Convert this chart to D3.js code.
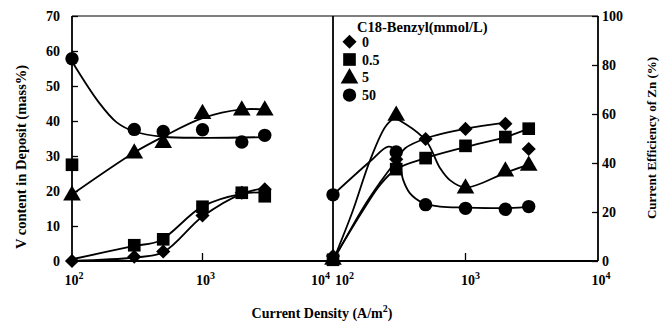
<!DOCTYPE html>
<html><head><meta charset="utf-8">
<script src="https://cdn.jsdelivr.net/npm/d3@7/dist/d3.min.js"></script>
<style>
body{margin:0;background:#fff;}
svg{display:block;}
text{font-family:"Liberation Serif","Times New Roman",serif;font-weight:bold;fill:#000;}
</style></head>
<body><svg id="chart" width="669" height="324"></svg>
<script>
// ---------- data ----------
const currentDensity = [100, 300, 500, 1000, 2000, 3000];
const legendTitle = "C18-Benzyl(mmol/L)";
const concLabels = ["0", "0.5", "5", "50"];
const xTickLabels = [{b:"10", e:"2"}, {b:"10", e:"3"}, {b:"10", e:"4"}];
const xTickValues = [100, 1000, 10000];
const vTicks = [0, 10, 20, 30, 40, 50, 60, 70];
const ceTicks = [0, 20, 40, 60, 80, 100];

// V content in deposit (mass%)
const vDiamond  = [0, 1.2, 2.7, 13, 19.5, 20.5];
const vSquare   = [27.5, 4.5, 6.2, 15.5, 19.5, 18.5];
const vTriangle = [19, 31, 34, 42.3, 43.3, 43.3];
const vCircle   = [57.8, 37.6, 37, 37.5, 34, 35.9];

// Current efficiency of Zn (%)
const ceDiamond  = [2, 41.5, 49.8, 53.9, 56, 45.7];
const ceSquare   = [0.5, 37.5, 42, 47, 50.6, 54];
const ceTriangle = [1, 59.7, null, 30, 37, 39.3];
const ceCircle   = [27, 44.5, 23, 21.5, 21.1, 22.2];

// fitted curves
const fitVDiamondX  = [100, 300, 500, 1000, 2000, 3000];
const fitVDiamondY  = [0, 1, 2.5, 12.7, 19.2, 20.8];
const fitVSquareX   = [100, 300, 470, 1000, 2000, 3000];
const fitVSquareY   = [0.5, 4.3, 5.8, 15.6, 19.2, 19.6];
const fitVTriangleX = [100, 300, 500, 1000, 2000, 3000];
const fitVTriangleY = [19, 31, 35.5, 40.8, 43.3, 43.3];
const fitVCircleX   = [100, 160, 220, 300, 500, 1000, 3000];
const fitVCircleY   = [57, 45.4, 39.6, 37, 35.5, 35.2, 35.4];

const fitCEDiamondX  = [100, 170, 226, 300, 350, 500, 1000, 2000];
const fitCEDiamondY  = [0, 22, 32, 41, 46, 50, 54, 56.5];
const fitCESquareX   = [100, 170, 226, 300, 500, 1000, 2000, 3000];
const fitCESquareY   = [0.5, 21, 31, 37.5, 42, 46.5, 50.6, 54];
const fitCETriangleX = [100, 140, 190, 250, 290, 350, 508, 641, 762, 1000, 2000, 3000];
const fitCETriangleY = [0, 20, 41, 55, 58, 56, 48.8, 38, 33, 30, 36, 39.3];
const fitCECircleX   = [100, 190, 261, 300, 339, 380, 477, 641, 1000, 2000, 3200];
const fitCECircleY   = [27, 40.6, 46.7, 45, 33, 27.7, 23.7, 22.2, 21.8, 21.6, 22.2];

// ---------- layout ----------
const svg = d3.select("#chart");
const pTop = 16, pBottom = 261, pLeft = 72, pMid = 333, pRight = 598;
const xL = d3.scaleLog().domain([100, 10000]).range([pLeft, pMid]);
const xR = d3.scaleLog().domain([100, 10000]).range([pMid, pRight]);
const yV = d3.scaleLinear().domain([0, 70]).range([pBottom, pTop]);
const yC = d3.scaleLinear().domain([0, 100]).range([pBottom, pTop]);

const shapes = ["diamond", "square", "triangle", "circle"];
function marker(g, shape, x, y){
  if (shape === "circle") {
    g.append("circle").attr("cx", x).attr("cy", y).attr("r", 6.7).attr("fill", "#000");
  } else if (shape === "square") {
    g.append("path").attr("d", d3.symbol(d3.symbolSquare, 160)()).attr("transform", `translate(${x},${y})`).attr("fill", "#000");
  } else if (shape === "diamond") {
    g.append("path").attr("d", d3.symbol(d3.symbolSquare, 100)()).attr("transform", `translate(${x},${y}) rotate(45)`).attr("fill", "#000");
  } else {
    g.append("path").attr("d", d3.symbol(d3.symbolTriangle, 135)()).attr("transform", `translate(${x},${y+1})`).attr("fill", "#000");
  }
}

// frame
const frame = svg.append("g").attr("stroke", "#000").attr("fill", "none");
frame.append("line").attr("x1", pLeft).attr("x2", pRight).attr("y1", pTop).attr("y2", pTop).attr("stroke-width", 1.1);
frame.append("line").attr("x1", pLeft).attr("x2", pRight).attr("y1", pBottom).attr("y2", pBottom).attr("stroke-width", 1.8);
frame.append("line").attr("x1", pLeft).attr("x2", pLeft).attr("y1", pTop).attr("y2", pBottom).attr("stroke-width", 1.8);
frame.append("line").attr("x1", pMid).attr("x2", pMid).attr("y1", pTop).attr("y2", pBottom).attr("stroke-width", 1.8);
frame.append("line").attr("x1", pRight).attr("x2", pRight).attr("y1", pTop).attr("y2", pBottom).attr("stroke-width", 1.8);

// left y axis
const axL = svg.append("g").attr("transform", `translate(${pLeft},0)`)
  .call(d3.axisLeft(yV).tickValues(vTicks).tickSize(-6).tickPadding(12).tickFormat(d3.format("d")));
axL.select(".domain").remove();
axL.selectAll("line").attr("stroke-width", 1.3);
axL.selectAll("text").attr("font-size", 14).attr("font-family", null);

// right y axis
const axR = svg.append("g").attr("transform", `translate(${pRight},0)`)
  .call(d3.axisRight(yC).tickValues(ceTicks).tickSize(-6).tickPadding(4).tickFormat(d3.format("d")));
axR.select(".domain").remove();
axR.selectAll("line").attr("stroke-width", 1.3);
axR.selectAll("text").attr("font-size", 14).attr("font-family", null);

// bottom ticks (inward)
[xL, xR].forEach(sc => {
  svg.append("line").attr("x1", sc(1000)).attr("x2", sc(1000)).attr("y1", pBottom).attr("y2", pBottom - 8)
    .attr("stroke", "#000").attr("stroke-width", 1.3);
});

// x tick labels
function xLabel(x, i, anchor){
  const t = svg.append("text").attr("x", x).attr("y", 285).attr("font-size", 14).attr("text-anchor", anchor);
  t.append("tspan").text(xTickLabels[i].b);
  t.append("tspan").attr("dy", -6).attr("font-size", 10).text(xTickLabels[i].e);
}
xLabel(xL(xTickValues[0]) + 2, 0, "middle");
xLabel(xL(xTickValues[1]) + 3, 1, "middle");
xLabel(xL(xTickValues[2]) - 3, 2, "end");
xLabel(xR(xTickValues[0]) + 2, 0, "start");
xLabel(xR(xTickValues[1]) + 5, 1, "middle");
xLabel(xR(xTickValues[2]) + 3, 2, "middle");

// axis titles
const xt = svg.append("text").attr("x", 322).attr("y", 318).attr("font-size", 14).attr("text-anchor", "middle");
xt.append("tspan").text("Current Density (A/m");
xt.append("tspan").attr("dy", -6).attr("font-size", 10).text("2");
xt.append("tspan").attr("dy", 6).text(")");

svg.append("text").attr("transform", "translate(26,157) rotate(-90)").attr("font-size", 14.5)
  .attr("text-anchor", "middle").text("V content in Deposit (mass%)");
svg.append("text").attr("transform", "translate(656,138) rotate(-90)").attr("font-size", 13)
  .attr("text-anchor", "middle").text("Current Efficiency of Zn (%)");

// curves
const line = d3.line().curve(d3.curveCatmullRom.alpha(0.5));
function curve(xs, ys, sx, sy){
  svg.append("path").attr("d", line(xs.map((x, i) => [sx(x), sy(ys[i])])))
    .attr("fill", "none").attr("stroke", "#000").attr("stroke-width", 1.8);
}
curve(fitVDiamondX, fitVDiamondY, xL, yV);
curve(fitVSquareX, fitVSquareY, xL, yV);
curve(fitVTriangleX, fitVTriangleY, xL, yV);
curve(fitVCircleX, fitVCircleY, xL, yV);
curve(fitCEDiamondX, fitCEDiamondY, xR, yC);
curve(fitCESquareX, fitCESquareY, xR, yC);
curve(fitCETriangleX, fitCETriangleY, xR, yC);
curve(fitCECircleX, fitCECircleY, xR, yC);

// markers
const mg = svg.append("g");
const vSeries = [vDiamond, vSquare, vTriangle, vCircle];
const ceSeries = [ceDiamond, ceSquare, ceTriangle, ceCircle];
vSeries.forEach((s, k) => s.forEach((v, i) => { if (v != null) marker(mg, shapes[k], xL(currentDensity[i]), yV(v)); }));
ceSeries.forEach((s, k) => s.forEach((v, i) => { if (v != null) marker(mg, shapes[k], xR(currentDensity[i]), yC(v)); }));

// legend
svg.append("text").attr("x", 357).attr("y", 32).attr("font-size", 14.5).text(legendTitle);
concLabels.forEach((lab, k) => {
  const y = 41.7 + k * 17.8;
  marker(svg, shapes[k], 349.5, y);
  svg.append("text").attr("x", 362).attr("y", y + 5).attr("font-size", 14).text(lab);
});
</script></body></html>
